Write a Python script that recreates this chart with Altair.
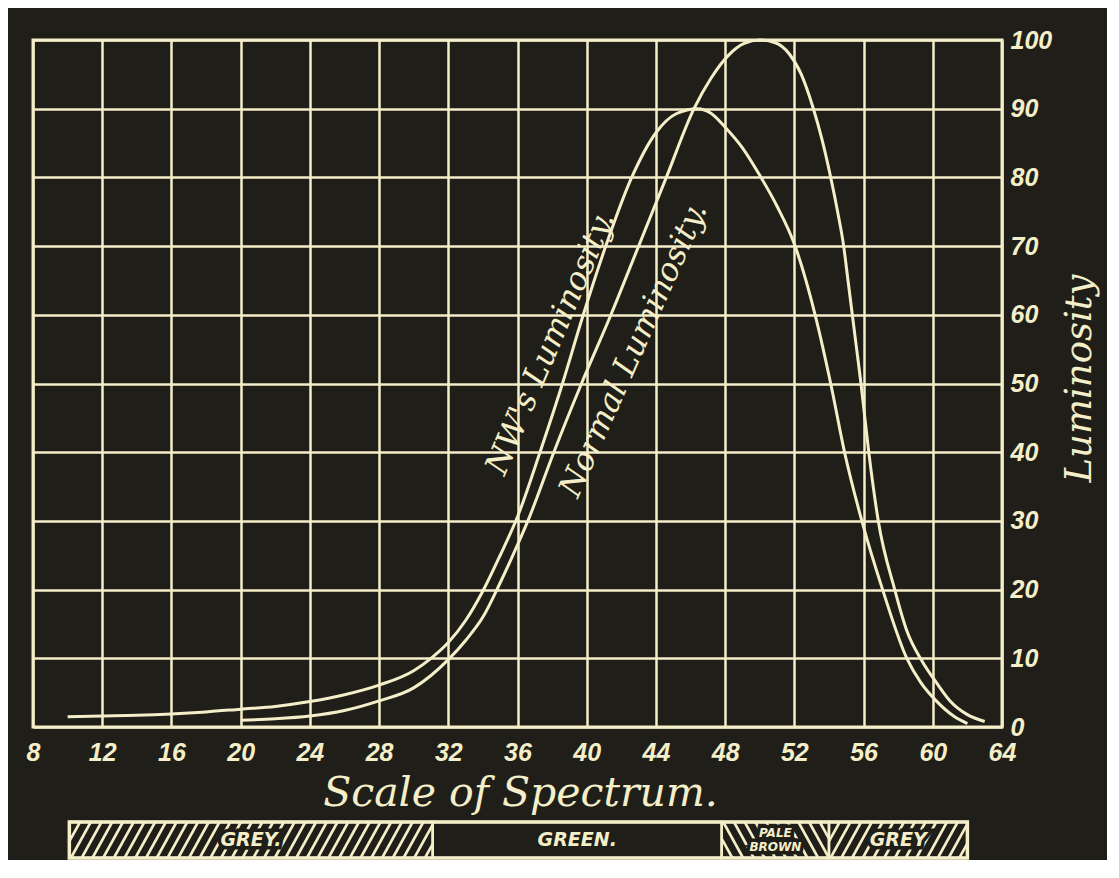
import altair as alt
import numpy as np
import pandas as pd

BG = "#1f1e18"
CREAM = "#f4eec9"

# ---------------- data ----------------
x_ticks = list(range(8, 65, 2))
y_ticks = list(range(0, 101, 10))

nw_x = [10, 12, 14, 16, 18, 20, 22, 24, 26, 28, 30, 31, 32, 33, 34, 35, 36, 37.3,
        38.6, 39.8, 41.1, 42.6, 44, 45.2, 46.4, 47.2, 48, 49, 50, 51, 52, 53.2,
        54.1, 54.9, 55.9, 57.1, 58.5, 59.3, 60.2, 61.2, 62]
nw_y = [1.5, 1.6, 1.7, 1.9, 2.2, 2.6, 3.0, 3.7, 4.7, 6.1, 8.2, 10, 12.3, 15.5,
        19.8, 25, 30.6, 40, 50, 60, 70, 80, 86.5, 89.3, 90, 89.3, 87.3, 84.3,
        80.3, 75.8, 70.3, 60, 50, 40, 30, 20, 10, 6.5, 3.8, 1.6, 0.5]

normal_x = [20, 22, 24, 26, 28, 30, 31, 32, 33, 34, 35, 36, 36.6, 38.1, 39.7, 41.4,
            43.0, 44.6, 46.2, 47.2, 48.2, 49.1, 50, 50.9, 51.7, 52.4, 53.1, 53.6,
            54.1, 54.5, 54.85, 55.1, 55.35, 55.6, 55.85, 56.3, 56.85, 57.8, 58.5,
            59.4, 60.2, 61, 62, 63]
normal_y = [1.0, 1.2, 1.6, 2.4, 3.8, 5.7, 7.5, 9.8, 12.6, 16, 21, 26.5, 30, 40, 50,
            60, 70, 80, 90, 94.5, 97.8, 99.5, 100, 99.6, 98, 95, 90, 85.5, 80, 75,
            70, 65, 60, 55, 50, 40, 30, 20, 14, 9.5, 6.5, 3.8, 1.8, 0.8]

series_labels = ["NW's Luminosity.", "Normal Luminosity."]
series_label_x = [37.9, 42.7]
series_label_y = [55.9, 54.9]
series_label_angle = [293, 294]

band_names = ["GREY.", "GREEN.", "PALE\nBROWN", "GREY"]
band_start = [10.1, 31.1, 47.8, 54.0]
band_end = [31.1, 47.8, 54.0, 62.0]
band_hatch = ["/", "", "\\", "/"]
band_font = [19, 19, 12, 19]

HATCH_STEP = 0.62
HATCH_RUN = 1.15

# ---------------- tables ----------------
lines_df = pd.concat([
    pd.DataFrame({"x": nw_x, "y": nw_y, "series": "NW"}),
    pd.DataFrame({"x": normal_x, "y": normal_y, "series": "Normal"}),
], ignore_index=True)

lab_df = pd.DataFrame({"text": series_labels, "x": series_label_x,
                       "y": series_label_y, "angle": series_label_angle})

band_df = pd.DataFrame({"start": band_start, "end": band_end, "name": band_names,
                        "fs": band_font})
band_df["mid"] = (band_df["start"] + band_df["end"]) / 2
band_df["y0"] = 0.0
band_df["y1"] = 1.0
n_lines = band_df["name"].str.count("\n")
band_df["ym"] = 0.5 + 0.19 * n_lines

outline_df = pd.DataFrame({"start": [min(band_start)], "end": [max(band_end)],
                           "y0": [0.0], "y1": [1.0]})

hx0, hx1, hy0, hy1 = [], [], [], []
for a, b, h in zip(band_start, band_end, band_hatch):
    if not h:
        continue
    for s in np.arange(a - HATCH_RUN, b, HATCH_STEP):
        if h == "/":
            f = lambda xx, s=s: (xx - s) / HATCH_RUN
        else:
            f = lambda xx, s=s: 1 - (xx - s) / HATCH_RUN
        x0, x1 = max(s, a), min(s + HATCH_RUN, b)
        if x1 - x0 <= 1e-6:
            continue
        hx0.append(x0); hx1.append(x1); hy0.append(f(x0)); hy1.append(f(x1))
hatch_df = pd.DataFrame({"x0": hx0, "x1": hx1, "y0": hy0, "y1": hy1})

# ---------------- main panel ----------------
xscale = alt.Scale(domain=[8, 64], nice=False, zero=False)
yscale = alt.Scale(domain=[0, 100], nice=False, zero=False)

x_axis = alt.Axis(values=x_ticks, format="d", labelFlush=False,
                  labelExpr="datum.value % 4 == 0 ? datum.label : ''",
                  title="Scale of Spectrum.", labelPadding=13,
                  titleFontSize=41,
                  titleX=487, titleY=78, titleBaseline="alphabetic",
                  titleAlign="center", titleAnchor="middle")
y_axis = alt.Axis(orient="right", values=y_ticks, title="Luminosity",
                  labelPadding=8, labelFlush=False,
                  titleAngle=270, titleX=88, titleY=338,
                  titleFontSize=37,
                  titleBaseline="alphabetic", titleAlign="center")

lines = alt.Chart(lines_df).mark_line(
    color=CREAM, strokeWidth=3, interpolate="monotone"
).encode(
    x=alt.X("x:Q", scale=xscale, axis=x_axis),
    y=alt.Y("y:Q", scale=yscale, axis=y_axis),
    detail="series:N",
)

labels = alt.Chart(lab_df).mark_text(
    font="DejaVu Serif", fontStyle="italic", fontSize=32, color=CREAM,
    align="center", baseline="middle"
).encode(
    x=alt.X("x:Q", scale=xscale),
    y=alt.Y("y:Q", scale=yscale),
    text="text:N",
    angle=alt.Angle("angle:Q", scale=None),
)

top = alt.layer(lines, labels).properties(
    width=969, height=687,
    view=alt.ViewBackground(stroke=CREAM, strokeWidth=3),
)

# ---------------- band panel ----------------
bx = alt.Scale(domain=[8, 64], nice=False, zero=False)
by = alt.Scale(domain=[0, 1], nice=False, zero=False)

hatch = alt.Chart(hatch_df).mark_rule(color=CREAM, strokeWidth=2.6).encode(
    x=alt.X("x0:Q", scale=bx, axis=None), x2="x1:Q",
    y=alt.Y("y0:Q", scale=by, axis=None), y2="y1:Q",
)
segs = alt.Chart(band_df).mark_rect(
    fillOpacity=0, stroke=CREAM, strokeWidth=2.5
).encode(
    x=alt.X("start:Q", scale=bx, axis=None), x2="end:Q",
    y=alt.Y("y0:Q", scale=by, axis=None), y2="y1:Q",
)
outline = alt.Chart(outline_df).mark_rect(
    fillOpacity=0, stroke=CREAM, strokeWidth=3.5
).encode(
    x=alt.X("start:Q", scale=bx, axis=None), x2="end:Q",
    y=alt.Y("y0:Q", scale=by, axis=None), y2="y1:Q",
)
text_kw = dict(font="DejaVu Sans", fontWeight="bold", fontStyle="italic",
               align="center", baseline="middle", lineBreak="\n", lineHeight=14)
halo = alt.Chart(band_df).mark_text(
    color=BG, stroke=BG, strokeWidth=7, **text_kw
).encode(
    x=alt.X("mid:Q", scale=bx, axis=None),
    y=alt.Y("ym:Q", scale=by, axis=None),
    text="name:N", size=alt.Size("fs:Q", scale=None),
)
btext = alt.Chart(band_df).mark_text(color=CREAM, **text_kw).encode(
    x=alt.X("mid:Q", scale=bx, axis=None),
    y=alt.Y("ym:Q", scale=by, axis=None),
    text="name:N", size=alt.Size("fs:Q", scale=None),
)

band = alt.layer(hatch, halo, segs, outline, btext).properties(
    width=969, height=36,
    view=alt.ViewBackground(strokeOpacity=0),
)

chart = alt.vconcat(top, band, spacing=95, bounds="flush").properties(
    background=BG,
    padding={"left": 16, "top": 18, "right": 8, "bottom": 0},
).configure_axis(
    domain=False, ticks=False, grid=True, gridColor=CREAM, gridWidth=2.5,
    gridOpacity=1,
    labelColor=CREAM, labelFont="Liberation Sans", labelFontSize=25,
    labelFontStyle="italic", labelFontWeight="bold",
    titleColor=CREAM, titleFont="DejaVu Serif",
    titleFontStyle="italic", titleFontWeight="normal",
)

chart.save("out.html", embed_options={"renderer": "svg", "actions": False})
